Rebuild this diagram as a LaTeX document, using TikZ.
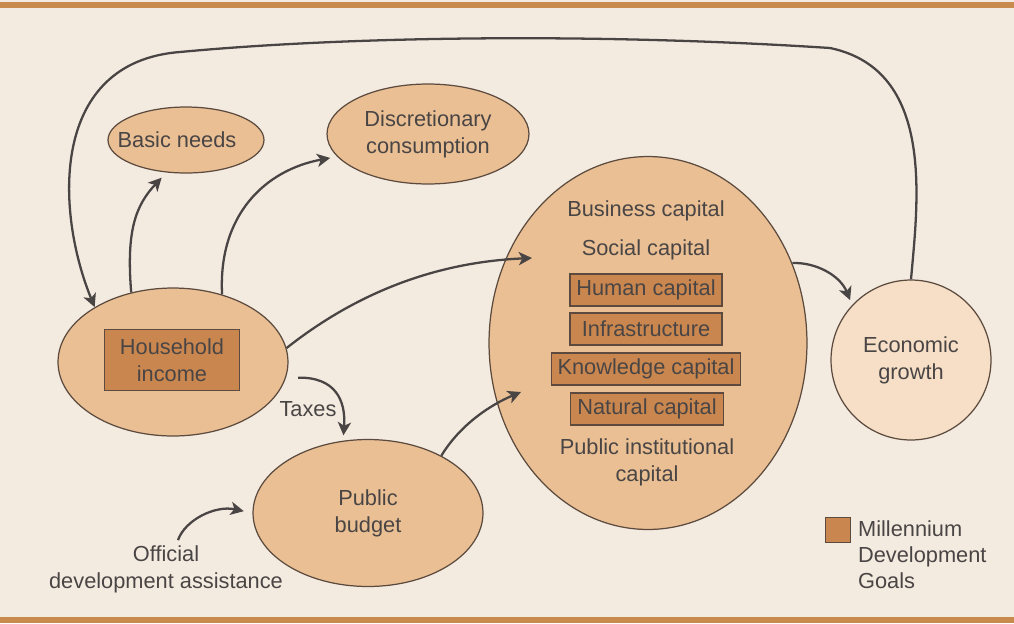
\documentclass[tikz,border=0pt]{standalone}
\usepackage{fontspec}
\setmainfont{Liberation Sans}
\usetikzlibrary{shapes.geometric,arrows.meta}
\definecolor{bg_cream}{HTML}{F4EBE0}
\definecolor{band_orange}{HTML}{C98A4E}
\definecolor{oval_tan}{HTML}{E9BF93}
\definecolor{growth_tan}{HTML}{F6DFC6}
\definecolor{mdg_brown}{HTML}{C9874F}
\definecolor{edge_brown}{HTML}{5C4A3E}
\definecolor{ink_gray}{HTML}{4A4545}

\begin{document}
\begin{tikzpicture}[x=0.02cm, y=-0.02cm, text=ink_gray,
        font=\fontsize{12.4}{15.5}\selectfont,
        oval_style/.style={ellipse,draw=edge_brown,line width=0.7pt,fill=oval_tan,align=center,inner sep=0pt},
        mdg_style/.style={rectangle,draw=edge_brown,line width=0.7pt,fill=mdg_brown,align=center,inner sep=2pt},
        text_style/.style={align=center,inner sep=1pt},
        edge_style/.style={draw=ink_gray,line width=1.3pt,-{Stealth[length=7.5pt,width=7.5pt,inset=2pt]}}]

        % page and bands
        \fill[bg_cream] (0,0) rectangle (1014,623);
        \fill[band_orange] (0,2) rectangle (1014,8);
        \fill[band_orange] (0,617) rectangle (1014,623);

        % ovals
        \node [oval_style,minimum width=3.12cm,minimum height=1.32cm,label={[xshift=-0.18cm]center:Basic needs}] (basic) at (186,140) {};
        \node [oval_style,minimum width=4.04cm,minimum height=2.0cm] (disc) at (428,134) {Discretionary\\consumption};
        \node [oval_style,minimum width=4.6cm,minimum height=2.96cm] (house) at (173,362) {};
        \node [mdg_style,minimum width=2.7cm,minimum height=1.22cm] (house_box) at (172,360) {Household\\income};
        \node [oval_style,minimum width=4.6cm,minimum height=2.94cm] (budget) at (368,513) {Public\\budget};
        \node [oval_style,minimum width=6.36cm,minimum height=7.46cm] (capital) at (648,343) {};
        \node [oval_style,circle,fill=growth_tan,minimum size=3.2cm] (growth) at (911,360) {Economic\\growth};

        % capital stocks
        \node [text_style] (business) at (646,211) {Business capital};
        \node [text_style] (social) at (646,250) {Social capital};
        \node [mdg_style,minimum width=3.04cm,minimum height=0.64cm] (human) at (646,290) {Human capital};
        \node [mdg_style,minimum width=3.04cm,minimum height=0.64cm] (infra) at (646,329) {Infrastructure};
        \node [mdg_style,minimum width=3.78cm,minimum height=0.64cm] (knowledge) at (646,369) {Knowledge capital};
        \node [mdg_style,minimum width=3.06cm,minimum height=0.64cm] (natural) at (647,409) {Natural capital};
        \node [text_style] (public_inst) at (647,462) {Public institutional\\capital};

        % other texts
        \node [text_style] (taxes) at (308,409) {Taxes};
        \node [text_style] (oda) at (166,569) {Official\\development assistance};
        \node [mdg_style,minimum size=0.5cm,inner sep=0pt] (legend_box) at (838,530) {};
        \node [text_style,align=left,anchor=west,font=\fontsize{12.4}{14.8}\selectfont] (legend) at (856,555) {Millennium\\Development\\Goals};

        \coordinate (cap_in1) at (532,258);
        \coordinate (cap_in2) at (521,392);

        % flows
        \draw [edge_style] (growth.90) .. controls (918,200) and (935,70) .. (830,48)
            .. controls (600,33) and (350,36) .. (180,52)
            .. controls (50,62) and (55,210) .. (house.145);
        \draw [edge_style,shorten >=4pt] (house.121) .. controls (126,230) and (136,205) .. (basic.239);
        \draw [edge_style,shorten >=4pt] (house.54) .. controls (218,215) and (265,170) .. (disc.194);
        \draw [edge_style] (house.7) .. controls (360,290) and (440,262) .. (cap_in1);
        \draw [edge_style,shorten <=7pt,shorten >=3pt] (house.-8) .. controls (335,377) and (346,400) .. (budget.109);
        \draw [edge_style] (budget.38) .. controls (460,425) and (490,405) .. (cap_in2);
        \draw [edge_style,shorten >=5pt] ([xshift=0.24cm,yshift=0.06cm]oda.north) .. controls (185,520) and (215,505) .. (budget.west);
        \draw [edge_style,shorten >=3pt] (capital.29) .. controls (815,262) and (840,275) .. (growth.137);
\end{tikzpicture}
\end{document}
